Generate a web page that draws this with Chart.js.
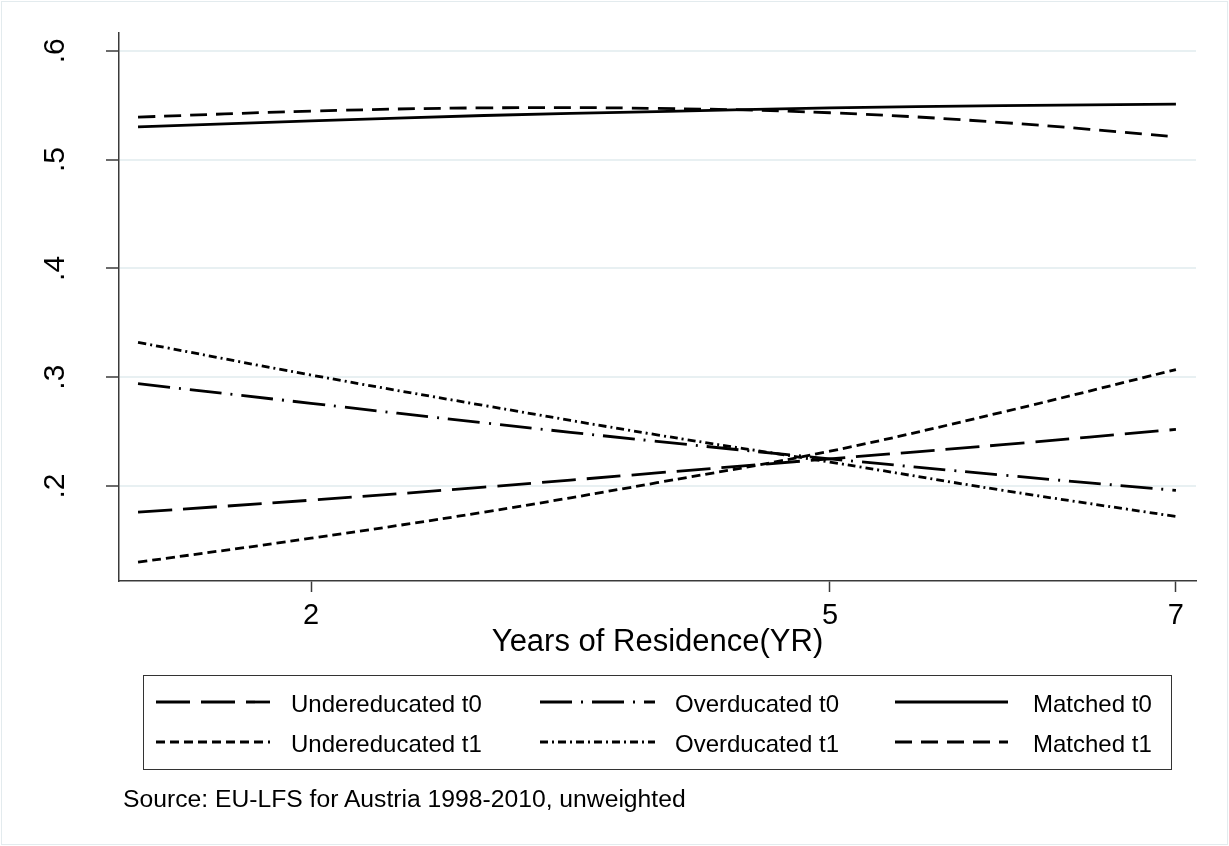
<!DOCTYPE html>
<html>
<head>
<meta charset="utf-8">
<script src="https://cdn.jsdelivr.net/npm/chart.js@4.4.1/dist/chart.umd.min.js"></script>
<style>
  html, body { margin: 0; padding: 0; background: #fff; }
  body { width: 1229px; height: 846px; position: relative; overflow: hidden; font-family: "Liberation Sans", Arial, sans-serif; }
  .frame { position: absolute; left: 1px; top: 1px; width: 1225px; height: 842px; border: 1px solid #e3ebee; }
  #chartWrap { position: absolute; left: 0; top: 0; width: 1229px; height: 665px; }
  #legendBox { position: absolute; left: 143px; top: 675px; width: 1027px; height: 93px; border: 1.5px solid #333; }
  #legendSvg { position: absolute; left: 0; top: 0; }
  .note { position: absolute; left: 123px; top: 785px; font-size: 24.7px; color: #000; white-space: nowrap; }
</style>
</head>
<body>
<div class="frame"></div>
<div id="chartWrap"><canvas id="grafico" width="1229" height="665"></canvas></div>
<div id="legendBox"></div>
<svg id="legendSvg" width="1229" height="846"></svg>
<div class="note">Source: EU-LFS for Austria 1998-2010, unweighted</div>

<script>
// Datos
const years = [1, 2, 3, 4, 5, 6, 7];
const xTicks = [2, 5, 7];
const yTicks = [0.2, 0.3, 0.4, 0.5, 0.6];

const underT0 = [0.176, 0.187, 0.199, 0.212, 0.225, 0.238, 0.252];
const overT0 = [0.294, 0.276, 0.258, 0.241, 0.225, 0.210, 0.196];
const matchedT0 = [0.530, 0.5355, 0.5405, 0.544, 0.5475, 0.5495, 0.551];
const underT1 = [0.130, 0.152, 0.176, 0.203, 0.232, 0.268, 0.307];
const overT1 = [0.332, 0.302, 0.274, 0.247, 0.222, 0.196, 0.172];
const matchedT1 = [0.539, 0.5445, 0.5475, 0.547, 0.543, 0.534, 0.521];

const seriesNames = ["Undereducated t0", "Overducated t0", "Matched t0",
                     "Undereducated t1", "Overducated t1", "Matched t1"];
const seriesValues = [underT0, overT0, matchedT0, underT1, overT1, matchedT1];
const seriesDash = [[34, 11], [32, 9, 2, 9], [], [9, 5], [8, 4, 2, 4], [17, 9]];

const gridColor = '#e8f0f2';
const axisColor = '#3a3a3a';

const datasets = seriesNames.map((name, i) => ({
  label: name,
  data: years.map((x, j) => ({ x: x, y: seriesValues[i][j] })),
  borderColor: '#000',
  borderWidth: 2.8,
  borderDash: seriesDash[i],
  pointRadius: 0,
  tension: 0.4,
  fill: false
}));

const chart = new Chart(document.getElementById('grafico').getContext('2d'), {
  type: 'line',
  data: { datasets: datasets },
  options: {
    responsive: false,
    animation: false,
    devicePixelRatio: 1,
    layout: { padding: { top: 33, right: 33, left: 0, bottom: 0 } },
    plugins: { legend: { display: false }, tooltip: { enabled: false } },
    scales: {
      x: {
        type: 'linear',
        min: 0.89,
        max: 7.116,
        afterBuildTicks: (scale) => { scale.ticks = xTicks.map(v => ({ value: v })); },
        afterFit: (scale) => { scale.height = 84; },
        ticks: {
          font: { family: 'Liberation Sans', size: 29 },
          color: '#000',
          padding: 7,
          autoSkip: false,
          maxRotation: 0
        },
        grid: {
          drawOnChartArea: false,
          tickLength: 11,
          tickColor: axisColor,
          tickWidth: 1.5
        },
        border: { display: true, color: axisColor, width: 1.5 },
        title: {
          display: true,
          text: 'Years of Residence(YR)',
          color: '#000',
          font: { family: 'Liberation Sans', size: 31 },
          padding: { top: 0, bottom: 4 }
        }
      },
      y: {
        type: 'linear',
        min: 0.1127,
        max: 0.6163,
        afterBuildTicks: (scale) => { scale.ticks = yTicks.map(v => ({ value: v })); },
        afterFit: (scale) => {
          scale.width = 119;
          scale.paddingTop = 0;
          scale.paddingBottom = 0;
        },
        ticks: {
          font: { family: 'Liberation Sans', size: 30 },
          color: '#000',
          minRotation: 90,
          maxRotation: 90,
          crossAlign: 'center',
          padding: 38,
          autoSkip: false,
          callback: (v) => v.toFixed(1).replace(/^0/, '')
        },
        grid: {
          color: gridColor,
          lineWidth: 2,
          tickLength: 13,
          tickColor: axisColor,
          tickWidth: 1.5
        },
        border: { display: true, color: axisColor, width: 1.5 }
      }
    }
  }
});

// Leyenda dibujada aparte (tres columnas, estilo Stata)
const keyCols = [[156, 270, 291], [540, 655, 675], [895, 1008, 1033]];
const rowLineY = [702, 742];
const rowTextY = [712, 752];
const svg = document.getElementById('legendSvg');
const NS = 'http://www.w3.org/2000/svg';
seriesNames.forEach((name, i) => {
  const col = keyCols[i % 3];
  const row = Math.floor(i / 3);
  const line = document.createElementNS(NS, 'line');
  line.setAttribute('x1', col[0]);
  line.setAttribute('x2', col[1]);
  line.setAttribute('y1', rowLineY[row]);
  line.setAttribute('y2', rowLineY[row]);
  line.setAttribute('stroke', '#000');
  line.setAttribute('stroke-width', 2.8);
  if (seriesDash[i].length) line.setAttribute('stroke-dasharray', seriesDash[i].join(' '));
  svg.appendChild(line);
  const txt = document.createElementNS(NS, 'text');
  txt.setAttribute('x', col[2]);
  txt.setAttribute('y', rowTextY[row]);
  txt.setAttribute('font-family', 'Liberation Sans, Arial, sans-serif');
  txt.setAttribute('font-size', '24');
  txt.setAttribute('fill', '#000');
  txt.textContent = name;
  svg.appendChild(txt);
});
</script>
</body>
</html>
